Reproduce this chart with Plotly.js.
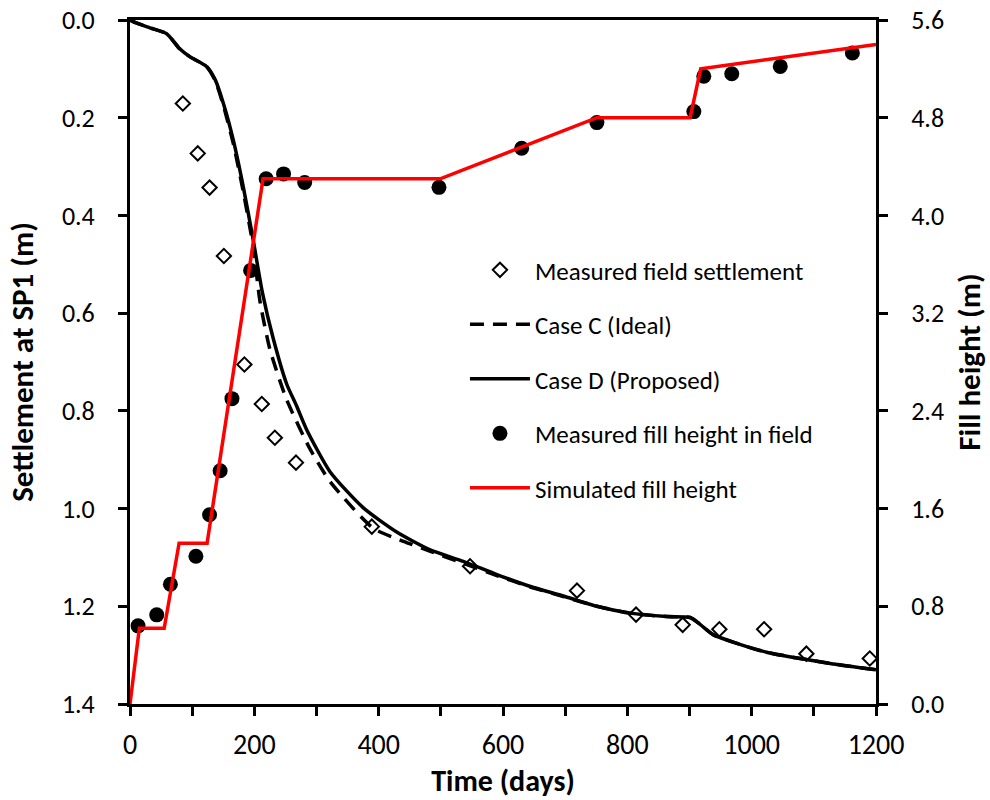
<!DOCTYPE html>
<html>
<head>
<meta charset="utf-8">
<script src="https://cdn.plot.ly/plotly-3.0.1.min.js"></script>
<style>body{margin:0;background:#fff}#chart{width:990px;height:800px}</style>
</head>
<body>
<div id="chart"></div>
<script>
// Measured field settlement (diamonds)
const measSettleDays = [85, 109, 128, 151, 184, 212, 233, 267, 389, 547, 719, 814, 889, 948, 1020, 1088, 1190];
const measSettle = [0.171, 0.273, 0.343, 0.483, 0.705, 0.786, 0.855, 0.906, 1.037, 1.118, 1.168, 1.217, 1.238, 1.247, 1.247, 1.297, 1.307];

// Case C (Ideal) - dashed
const caseCDays = [0, 10, 32, 59, 80, 96, 123, 137, 150, 166, 182, 198, 209, 225, 252, 290, 322, 391, 440, 482, 536, 590, 643, 697, 751, 804, 863, 901, 917, 938, 981, 1024, 1078, 1131, 1200];
const caseC = [0, 0.006, 0.016, 0.028, 0.059, 0.075, 0.095, 0.124, 0.174, 0.252, 0.350, 0.463, 0.575, 0.674, 0.777, 0.879, 0.945, 1.040, 1.067, 1.087, 1.112, 1.137, 1.160, 1.180, 1.200, 1.214, 1.221, 1.223, 1.237, 1.258, 1.278, 1.294, 1.307, 1.318, 1.330];

// Case D (Proposed) - solid
const caseDDays = [0, 10, 32, 59, 80, 96, 123, 137, 150, 166, 182, 198, 213, 230, 252, 268, 284, 322, 375, 429, 482, 536, 590, 643, 697, 751, 804, 863, 901, 917, 938, 981, 1024, 1078, 1131, 1200];
const caseD = [0, 0.006, 0.016, 0.028, 0.059, 0.075, 0.095, 0.122, 0.170, 0.245, 0.340, 0.449, 0.558, 0.650, 0.745, 0.790, 0.838, 0.925, 0.998, 1.048, 1.084, 1.108, 1.135, 1.159, 1.179, 1.200, 1.214, 1.221, 1.223, 1.237, 1.258, 1.278, 1.294, 1.307, 1.318, 1.330];

// Measured fill height in field (dots)
const measFillDays = [13, 43, 65, 106, 128, 145, 164, 194, 219, 247, 281, 497, 630, 751, 907, 923, 968, 1046, 1162];
const measFill = [0.64, 0.73, 0.98, 1.21, 1.55, 1.91, 2.50, 3.55, 4.30, 4.34, 4.27, 4.23, 4.55, 4.76, 4.85, 5.14, 5.16, 5.22, 5.33];

// Simulated fill height (red)
const simFillDays = [0, 15, 55, 79, 124, 214, 499, 751, 901, 918, 1200];
const simFill = [0, 0.62, 0.62, 1.316, 1.316, 4.30, 4.30, 4.80, 4.80, 5.20, 5.40];

const FONT = "Carlito, Calibri, Lato, 'Open Sans', sans-serif";

const traces = [
  {x: measSettleDays, y: measSettle, name: 'Measured field settlement', mode: 'markers', type: 'scatter',
   marker: {symbol: 'diamond-open', size: 11, color: '#000', line: {width: 2, color: '#000'}}, legendgroup: 'a'},
  {x: caseCDays, y: caseC, name: 'Case C (Ideal)', mode: 'lines', type: 'scatter',
   line: {color: '#000', width: 3.5, dash: '14px,9px', shape: 'spline', smoothing: 0.6}, legendgroup: 'b'},
  {x: caseDDays, y: caseD, name: 'Case D (Proposed)', mode: 'lines', type: 'scatter',
   line: {color: '#000', width: 3.5, shape: 'spline', smoothing: 0.6}, legendgroup: 'c'},
  {x: measFillDays, y: measFill, name: 'Measured fill height in field', mode: 'markers', type: 'scatter', yaxis: 'y2',
   marker: {symbol: 'circle', size: 15, color: '#000'}, legendgroup: 'd'},
  {x: simFillDays, y: simFill, name: 'Simulated fill height', mode: 'lines', type: 'scatter', yaxis: 'y2',
   line: {color: '#ff0000', width: 3.5}, legendgroup: 'e'}
];

const layout = {
  width: 990, height: 800,
  margin: {l: 130, r: 114, t: 20, b: 96},
  paper_bgcolor: '#fff', plot_bgcolor: '#fff',
  font: {family: FONT, size: 26, color: '#000'},
  showlegend: true,
  legend: {x: 0.449, y: 0.668, xanchor: 'left', yanchor: 'top', bgcolor: 'rgba(0,0,0,0)',
           font: {family: FONT, size: 25, color: '#000'}, traceorder: 'grouped', tracegroupgap: 19, itemwidth: 60},
  xaxis: {range: [0, 1200], dtick: 200, tick0: 0, showgrid: false, zeroline: false,
          showline: true, linecolor: '#000', linewidth: 3, mirror: true,
          ticks: 'outside', ticklen: 9, tickwidth: 3, tickcolor: '#000',
          minor: {dtick: 100, ticks: 'outside', ticklen: 9, tickwidth: 3, tickcolor: '#000', showgrid: false},
          tickfont: {family: FONT, size: 28}, ticklabelstandoff: 4,
          title: {text: '<b>Time (days)</b>', font: {family: FONT, size: 30}, standoff: 0}},
  yaxis: {range: [1.4, 0], dtick: 0.2, tick0: 0, tickformat: '.1f', showgrid: false, zeroline: false,
          showline: true, linecolor: '#000', linewidth: 3,
          ticks: 'outside', ticklen: 9, tickwidth: 3, tickcolor: '#000',
          tickfont: {family: FONT, size: 26}, ticklabelstandoff: 18,
          title: {text: '<b>Settlement at SP1 (m)</b>', font: {family: FONT, size: 31}, standoff: 20}},
  yaxis2: {range: [0, 5.6], dtick: 0.8, tick0: 0, tickformat: '.1f', overlaying: 'y', side: 'right',
           showgrid: false, zeroline: false, showline: true, linecolor: '#000', linewidth: 3,
           ticks: 'outside', ticklen: 9, tickwidth: 3, tickcolor: '#000',
           tickfont: {family: FONT, size: 26}, ticklabelstandoff: 18,
           title: {text: '<b>Fill height (m)</b>', font: {family: FONT, size: 31}, standoff: 16}}
};

Plotly.newPlot('chart', traces, layout, {displayModeBar: false, staticPlot: true});
</script>
</body>
</html>
